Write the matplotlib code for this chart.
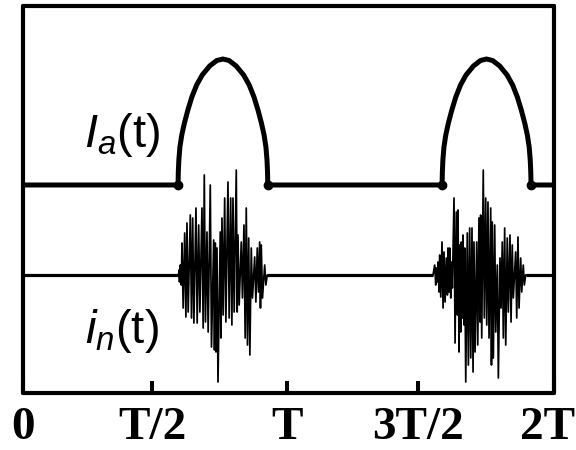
import matplotlib
matplotlib.use("Agg")
import matplotlib.pyplot as plt
import matplotlib.transforms as mtransforms

plt.rcParams['mathtext.fontset'] = 'custom'
plt.rcParams['mathtext.it'] = 'Liberation Sans:italic'
plt.rcParams['mathtext.rm'] = 'Liberation Sans'

# ---- data (time in units of T) ----
tick_pos = [0, 0.486, 0.994, 1.488, 2]
tick_labels = ["0", "T/2", "T", "3T/2", "2T"]

# I_a(t): arched current pulses
arch1_t = [0.584, 0.585, 0.587, 0.591, 0.598, 0.608, 0.621, 0.636, 0.654, 0.675, 0.703, 0.730, 0.753,
           0.776, 0.803, 0.831, 0.852, 0.870, 0.885, 0.898, 0.908, 0.915, 0.919, 0.921, 0.922]
arch2_t = [1.5785, 1.5795, 1.5815, 1.5855, 1.5924, 1.6023, 1.6152, 1.6301, 1.6479, 1.6687, 1.6965,
           1.7232, 1.746, 1.7688, 1.7955, 1.8233, 1.8441, 1.8619, 1.8768, 1.8897, 1.8996, 1.9065,
           1.9105, 1.9125, 1.9135]
arch_v = [0, 0.13, 0.25, 0.38, 0.50, 0.62, 0.75, 0.88, 1.00, 1.10, 1.19, 1.245, 1.26,
          1.245, 1.19, 1.10, 1.00, 0.88, 0.75, 0.62, 0.50, 0.38, 0.25, 0.13, 0]

# i_n(t): noise bursts
burst1_t = [0.586, 0.5875, 0.5894, 0.5924, 0.5962, 0.5988, 0.6033, 0.6090, 0.6135, 0.6176, 0.6221,
            0.6301, 0.6346, 0.6391, 0.6436, 0.6515, 0.6560, 0.6617, 0.6662, 0.6741, 0.6786,
            0.6828, 0.6873, 0.6929, 0.6974, 0.7054, 0.7099, 0.7182, 0.7212, 0.7242, 0.7269,
            0.7306, 0.7344, 0.7430, 0.7457, 0.7494, 0.7539, 0.7596, 0.7641, 0.7720, 0.7765,
            0.7822, 0.7867, 0.7909, 0.7954, 0.8033, 0.8067, 0.8097, 0.8142, 0.8221, 0.8266,
            0.8323, 0.8368, 0.8409, 0.8455, 0.8500, 0.8545, 0.8598, 0.8643, 0.8726, 0.8771,
            0.8824, 0.8869, 0.8914, 0.8944, 0.8974, 0.9020, 0.9103, 0.9148, 0.9200]
burst1_v = [0, 0.05, -0.07, 0.10, -0.10, 0.32, -0.33, 0.42, -0.42, 0.52, -0.37,
            0.60, -0.43, 0.57, -0.48, 0.67, -0.48, 0.50, -0.37, 0.67, -0.53,
            1.00, -0.47, 0.43, -0.57, 0.90, -0.72, 0.35, -0.75, 0.32, -0.77,
            0.27, -1.07, 0.43, -0.63, 0.57, -0.40, 0.77, -0.47, 0.93, -0.43,
            0.77, -0.50, 0.77, -0.37, 1.05, -0.37, 0.40, -0.30, 0.33, -0.23,
            0.50, -0.63, 0.67, -0.70, 0.37, -0.80, 0.27, -0.23, 0.18, -0.27,
            0.27, -0.17, 0.33, -0.33, 0.30, -0.23, 0.10, -0.10, 0]
burst2_t = [1.5443, 1.5506, 1.5546, 1.5567, 1.5600, 1.5631, 1.5671, 1.5695, 1.5735, 1.5782, 1.5822,
            1.5857, 1.5897, 1.5944, 1.5984, 1.6008, 1.6048, 1.6072, 1.6112, 1.6132, 1.6172,
            1.6234, 1.6274, 1.6320, 1.6360, 1.6384, 1.6424, 1.6448, 1.6488, 1.6508, 1.6548,
            1.6572, 1.6612, 1.6636, 1.6676, 1.6734, 1.6774, 1.6824, 1.6864, 1.6911, 1.6951,
            1.6986, 1.7026, 1.7088, 1.7128, 1.7174, 1.7214, 1.7238, 1.7278, 1.7336, 1.7376,
            1.7427, 1.7467, 1.7513, 1.7553, 1.7615, 1.7645, 1.7675, 1.7715, 1.7766, 1.7806,
            1.7864, 1.7904, 1.7965, 1.8005, 1.8052, 1.8092, 1.8142, 1.8182, 1.8240, 1.8280,
            1.8342, 1.8382, 1.8428, 1.8468, 1.8556, 1.8596, 1.8643, 1.8683, 1.8745, 1.8785,
            1.8843, 1.8883, 1.8933]
burst2_v = [0, 0.10, -0.10, 0.07, -0.07, 0.13, -0.17, 0.20, -0.22, 0.33, -0.33,
            0.23, -0.27, 0.17, -0.20, 0.27, -0.17, 0.27, -0.23, 0.13, -0.13,
            0.77, -0.68, 0.63, -0.40, 0.65, -0.77, 0.30, -0.57, 0.33, -0.43,
            0.40, -0.50, 0.27, -1.07, 0.42, -0.90, 0.47, -0.83, 0.47, -0.97,
            0.33, -0.77, 0.33, -0.70, 0.57, -0.47, 0.60, -0.63, 1.05, -0.43,
            0.77, -0.50, 0.73, -0.63, 0.67, -0.90, 0.53, -0.83, 0.50, -0.57,
            0.10, -1.03, 0.17, -0.33, 0.33, -0.63, 0.47, -0.70, 0.37, -0.37,
            0.40, -0.47, 0.30, -0.23, 0.23, -0.43, 0.38, -0.33, 0.17, -0.17,
            0.10, -0.10, 0]

# vertical placement of the two traces
IA_OFFSET = 2.08
IN_OFFSET = 1.18

fig = plt.figure(figsize=(5.76, 4.5), dpi=100)
ax = fig.add_axes([23/576, 57/450, 531/576, 387/450])
ax.set_xlim(0, 2)
ax.set_ylim(0, 3.87)

# I_a(t)
ia_t = [0] + arch1_t + arch2_t + [2]
ia_v = [0] + arch_v + arch_v + [0]
ax.plot(ia_t, [v + IA_OFFSET for v in ia_v], color='black', lw=3.6,
        solid_joinstyle='round', solid_capstyle='butt', zorder=3)
ends_t = [arch1_t[0], arch1_t[-1], arch2_t[0], arch2_t[-1]]
ax.plot(ends_t, [IA_OFFSET] * 4, 'o', color='black', ms=6, zorder=4)

# i_n(t)
in_t = [0] + burst1_t + burst2_t + [2]
in_v = [0] + burst1_v + burst2_v + [0]
ax.plot(in_t, [v + IN_OFFSET for v in in_v], color='black', lw=1.25, zorder=3)
for a, b in [(0, burst1_t[0]), (burst1_t[-1], burst2_t[0]), (burst2_t[-1], 2)]:
    ax.plot([a, b], [IN_OFFSET, IN_OFFSET], color='black', lw=2.3, solid_capstyle='butt', zorder=3)

# labels
ax.text(0.228, 2.46, r'$I_a$(t)', fontsize=34, family='Liberation Sans', va='baseline', ha='left')
ax.text(0.235, 0.50, r'$i_n$(t)', fontsize=34, family='Liberation Sans', va='baseline', ha='left')

# axes styling
for s in ax.spines.values():
    s.set_linewidth(3.0)
    s.set_capstyle('round')
ax.set_yticks([])
ax.set_xticks(tick_pos)
ax.set_xticklabels(tick_labels, fontfamily='Liberation Serif', fontweight='bold', fontsize=34)
ax.tick_params(axis='x', direction='in', length=8.6, width=2.9, pad=10)
lbls = ax.get_xticklabels()
lbls[-1].set_transform(lbls[-1].get_transform() + mtransforms.ScaledTranslation(-6/100, 0, fig.dpi_scale_trans))

fig.savefig('out.png', dpi=100)
